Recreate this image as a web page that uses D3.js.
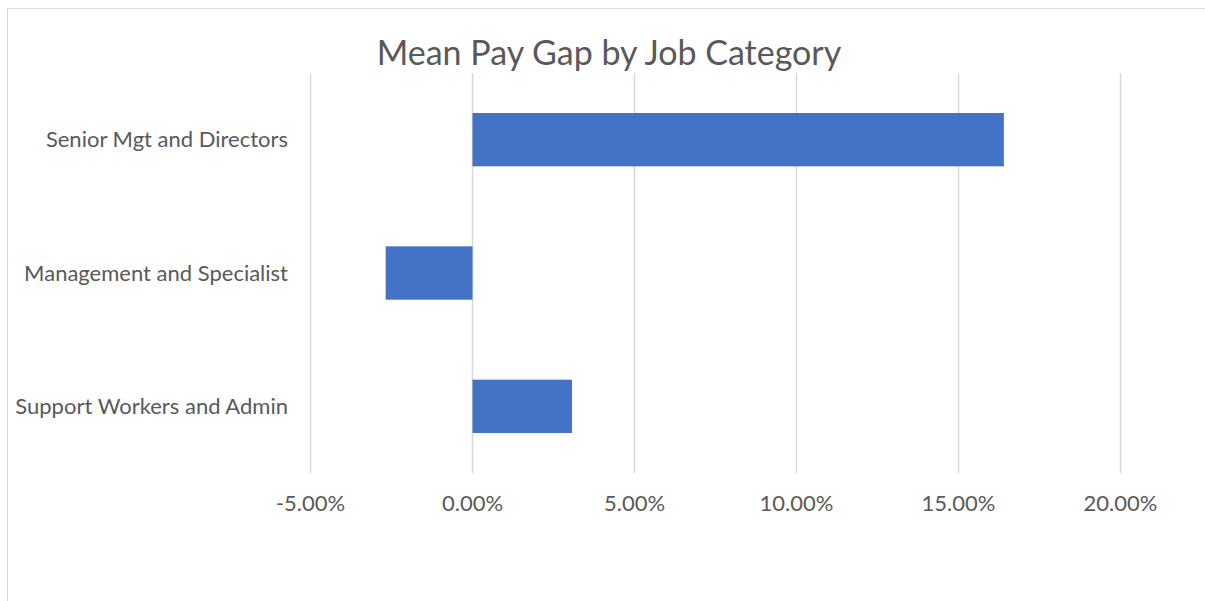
<!DOCTYPE html>
<html>
<head>
<meta charset="utf-8">
<script src="https://cdn.jsdelivr.net/npm/d3@7"></script>
<style>
  body { margin: 0; background: #fff; }
  svg { display: block; }
  text { font-family: Lato, "Open Sans", sans-serif; fill: #595959; }
</style>
</head>
<body>
<script>
const categories = ["Senior Mgt and Directors", "Management and Specialist", "Support Workers and Admin"]
const values = [0.164, -0.0268, 0.0307]
const xTicks = [-0.05, 0, 0.05, 0.10, 0.15, 0.20]

const width = 1205, height = 601
const margin = {top: 73, right: 85, bottom: 128, left: 310.5}

const svg = d3.select("body").append("svg")
    .attr("width", width)
    .attr("height", height)

// chart border (right/bottom edge falls outside the picture)
svg.append("rect")
    .attr("x", 7.5).attr("y", 8.5)
    .attr("width", width + 10).attr("height", height + 10)
    .attr("fill", "none")
    .attr("stroke", "#d9d9d9")
    .attr("stroke-width", 1)

const x = d3.scaleLinear()
    .domain([-0.05, 0.20])
    .range([margin.left, width - margin.right + 0.5])

const y = d3.scaleBand()
    .domain(categories)
    .range([margin.top, height - margin.bottom])
    .paddingInner(0.6)
    .paddingOuter(0.3)

// gridlines
svg.append("g")
  .selectAll("line")
  .data(xTicks)
  .join("line")
    .attr("x1", d => x(d)).attr("x2", d => x(d))
    .attr("y1", margin.top).attr("y2", height - margin.bottom)
    .attr("stroke", "#d9d9d9")
    .attr("stroke-width", 1.5)

// bars
svg.append("g")
  .selectAll("rect")
  .data(values)
  .join("rect")
    .attr("x", d => x(Math.min(0, d)))
    .attr("y", (d, i) => y(categories[i]))
    .attr("width", d => Math.abs(x(d) - x(0)))
    .attr("height", y.bandwidth())
    .attr("fill", "#4472C4")

// x tick labels (plain hyphen for minus, as in the original)
const fmt = d3.format(".2%")
svg.append("g")
  .selectAll("text")
  .data(xTicks)
  .join("text")
    .attr("x", d => x(d))
    .attr("y", 511)
    .attr("text-anchor", "middle")
    .style("font-size", "22px")
    .text(d => fmt(d).replace("−", "-"))

// category labels
svg.append("g")
  .selectAll("text")
  .data(categories)
  .join("text")
    .attr("x", 288)
    .attr("y", d => y(d) + y.bandwidth() / 2)
    .attr("dy", "0.35em")
    .attr("text-anchor", "end")
    .style("font-size", "22px")
    .text(d => d)

svg.append("text")
    .attr("x", 609)
    .attr("y", 65)
    .attr("text-anchor", "middle")
    .style("font-size", "34px")
    .text("Mean Pay Gap by Job Category")
</script>
</body>
</html>
